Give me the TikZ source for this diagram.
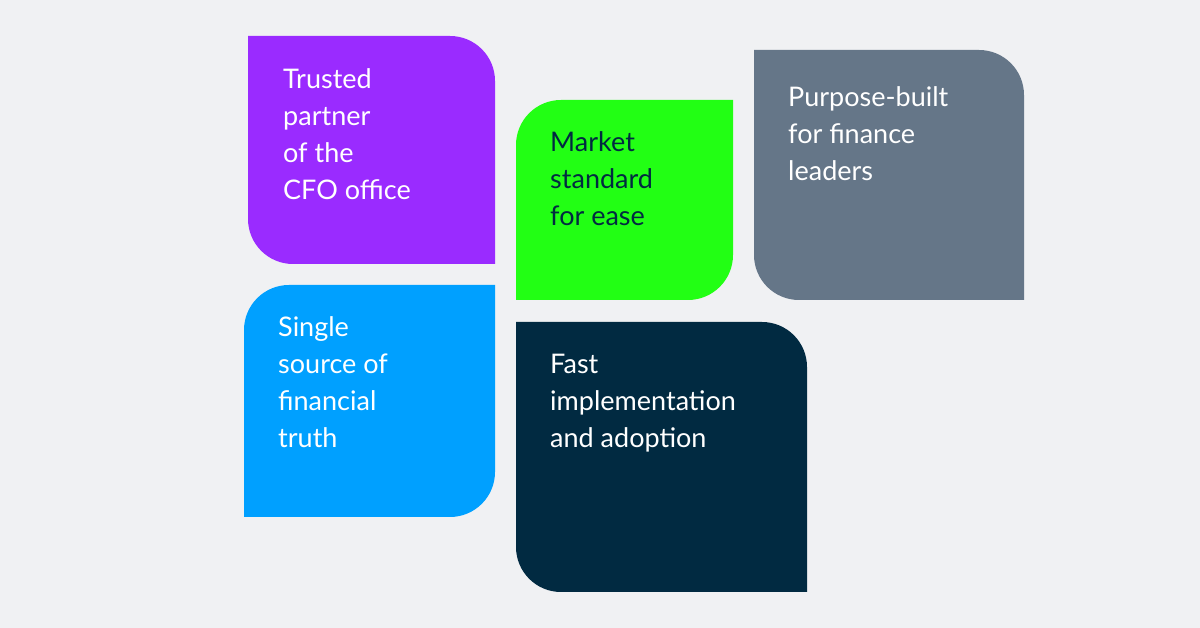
\documentclass[tikz,border=0pt]{standalone}
\usepackage{fontspec}
\setmainfont{Lato}
\definecolor{bgc}{HTML}{F0F1F3}
\definecolor{tpurple}{HTML}{9A2BFF}
\definecolor{tgreen}{HTML}{22FF14}
\definecolor{tgray}{HTML}{657688}
\definecolor{tblue}{HTML}{00A0FF}
\definecolor{tnavy}{HTML}{012A41}
\tikzset{
  label text/.style={anchor=north west, inner sep=0pt, align=left, text=white,
    font=\fontsize{27}{37}\selectfont},
}
% tile with top right and bottom left corners rounded
\newcommand{\tileA}[5]{\fill[#5] (#1,#4) -- ({#3-45},#4) arc[start angle=90,end angle=0,radius=45] -- (#3,#2) -- ({#1+45},#2) arc[start angle=270,end angle=180,radius=45] -- cycle;}
% tile with top left and bottom right corners rounded
\newcommand{\tileB}[5]{\fill[#5] (#1,{#4-45}) arc[start angle=180,end angle=90,radius=45] -- (#3,#4) -- (#3,{#2+45}) arc[start angle=0,end angle=-90,radius=45] -- (#1,#2) -- cycle;}
\begin{document}
\begin{tikzpicture}[x=1pt,y=1pt]
  \fill[bgc] (0,0) rectangle (1200,628);
  \useasboundingbox (0,0) rectangle (1200,628);
  \tileA{248}{364}{495}{592}{tpurple}
  \tileB{516}{328}{733}{528}{tgreen}
  \tileA{754}{328}{1024}{578}{tgray}
  \tileB{244}{111}{495}{343}{tblue}
  \tileA{516}{36}{807}{306}{tnavy}
  \node[label text] (trusted) at (283,560) {Trusted\\partner\\of the\\CFO office};
  \node[label text, text=tnavy] (market) at (550,497) {Market\\standard\\for ease};
  \node[label text] (purpose) at (788,542) {Purpose-built\\for finance\\leaders};
  \node[label text] (single) at (278,312) {Single\\source of\\financial\\truth};
  \node[label text] (fast) at (550,274) {Fast\\implementation\\and adoption};
\end{tikzpicture}
\end{document}
